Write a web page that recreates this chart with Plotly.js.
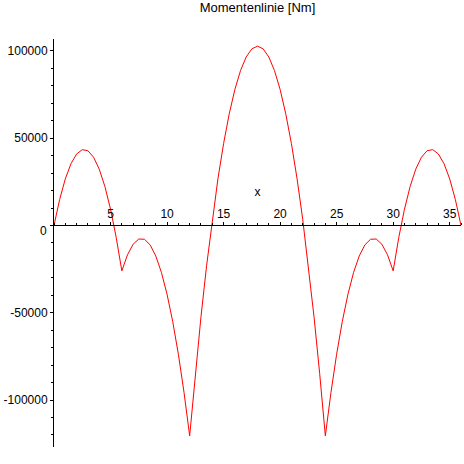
<!DOCTYPE html>
<html>
<head>
<meta charset="utf-8">
<script src="https://cdn.plot.ly/plotly-3.0.1.min.js"></script>
<style>
  html, body { margin: 0; padding: 0; background: #ffffff; }
  #chart { width: 464px; height: 464px; }
</style>
</head>
<body>
<div id="chart"></div>
<script>
// Position along the beam [m]
const xValues = [
  0, 0.5, 1, 1.5, 2, 2.5, 3, 3.5, 4, 4.5, 5, 5.5, 6,
  6.5, 7, 7.5, 8, 8.5, 9, 9.5, 10, 10.5, 11, 11.5, 12,
  12.5, 13, 13.5, 14, 14.5, 15, 15.5, 16, 16.5, 17, 17.5, 18,
  18.5, 19, 19.5, 20, 20.5, 21, 21.5, 22, 22.5, 23, 23.5, 24,
  24.5, 25, 25.5, 26, 26.5, 27, 27.5, 28, 28.5, 29, 29.5, 30,
  30.5, 31, 31.5, 32, 32.5, 33, 33.5, 34, 34.5, 35, 35.5, 36
];
// Bending moment [Nm]
const momentValues = [
  0, 14883, 26667, 35350, 40933, 43417, 42800, 39083, 32267, 22350, 9333, -6783, -26000,
  -16825, -10750, -7775, -7900, -11125, -17450, -26875, -39400, -55025, -73750, -95575, -120500,
  -84850, -52300, -22850, 3500, 26750, 46900, 63950, 77900, 88750, 96500, 101150, 102700,
  101150, 96500, 88750, 77900, 63950, 46900, 26750, 3500, -22850, -52300, -84850, -120500,
  -95575, -73750, -55025, -39400, -26875, -17450, -11125, -7900, -7775, -10750, -16825, -26000,
  -6783, 9333, 22350, 32267, 39083, 42800, 43417, 40933, 35350, 26667, 14883, 0
];
const xTickVals = [5, 10, 15, 20, 25, 30, 35];
const xTickText = ["5", "10", "15", "20", "25", "30", "35"];
const yTickVals = [-100000, -50000, 0, 50000, 100000];
const yTickText = ["-100000", "-50000", "", "50000", "100000"];
const originLabel = "0";

const titleText = "Momentenlinie [Nm]";
const xTitle = "x";

const yRange = [-126900, 106800];
const xAxisPos = (0 - yRange[0]) / (yRange[1] - yRange[0]);

const font = "Liberation Sans, Arial, sans-serif";

const trace = {
  x: xValues,
  y: momentValues,
  type: "scatter",
  mode: "lines",
  line: { color: "#ff0000", width: 1 },
  hoverinfo: "skip"
};

const layout = {
  width: 464,
  height: 464,
  margin: { l: 54, r: 3, t: 39, b: 17, pad: 0 },
  paper_bgcolor: "#ffffff",
  plot_bgcolor: "#ffffff",
  showlegend: false,
  font: { family: font, size: 12, color: "#000000" },
  title: {
    text: titleText,
    font: { family: font, size: 13, color: "#000000" },
    x: 0.5, xref: "paper", xanchor: "center",
    y: 0.984, yref: "container", yanchor: "middle"
  },
  annotations: [{
    x: 0, y: 0, xref: "x", yref: "y",
    text: originLabel,
    showarrow: false,
    xanchor: "right", yanchor: "middle",
    xshift: -5, yshift: -6,
    font: { family: font, size: 12, color: "#000000" }
  }],
  xaxis: {
    range: [0, 36],
    anchor: "free",
    position: xAxisPos,
    side: "top",
    showline: true,
    linecolor: "#000000",
    linewidth: 1,
    showgrid: false,
    zeroline: false,
    ticks: "outside",
    ticklen: 3,
    tickwidth: 1,
    tickcolor: "#000000",
    tickmode: "array",
    tickvals: xTickVals,
    ticktext: xTickText,
    tickfont: { family: font, size: 12, color: "#000000" },
    minor: { dtick: 1, tick0: 0, ticks: "outside", ticklen: 2, tickcolor: "#000000", showgrid: false },
    title: { text: xTitle, font: { family: font, size: 12, color: "#000000" }, standoff: 6 }
  },
  yaxis: {
    range: yRange,
    anchor: "x",
    side: "left",
    showline: true,
    linecolor: "#000000",
    linewidth: 1,
    showgrid: false,
    zeroline: false,
    ticks: "outside",
    ticklen: 3,
    tickwidth: 1,
    tickcolor: "#000000",
    tickmode: "array",
    tickvals: yTickVals,
    ticktext: yTickText,
    tickfont: { family: font, size: 12, color: "#000000" },
    minor: { dtick: 10000, tick0: 0, ticks: "outside", ticklen: 2, tickcolor: "#000000", showgrid: false }
  }
};

Plotly.newPlot("chart", [trace], layout, { staticPlot: true, displayModeBar: false });
</script>
</body>
</html>
